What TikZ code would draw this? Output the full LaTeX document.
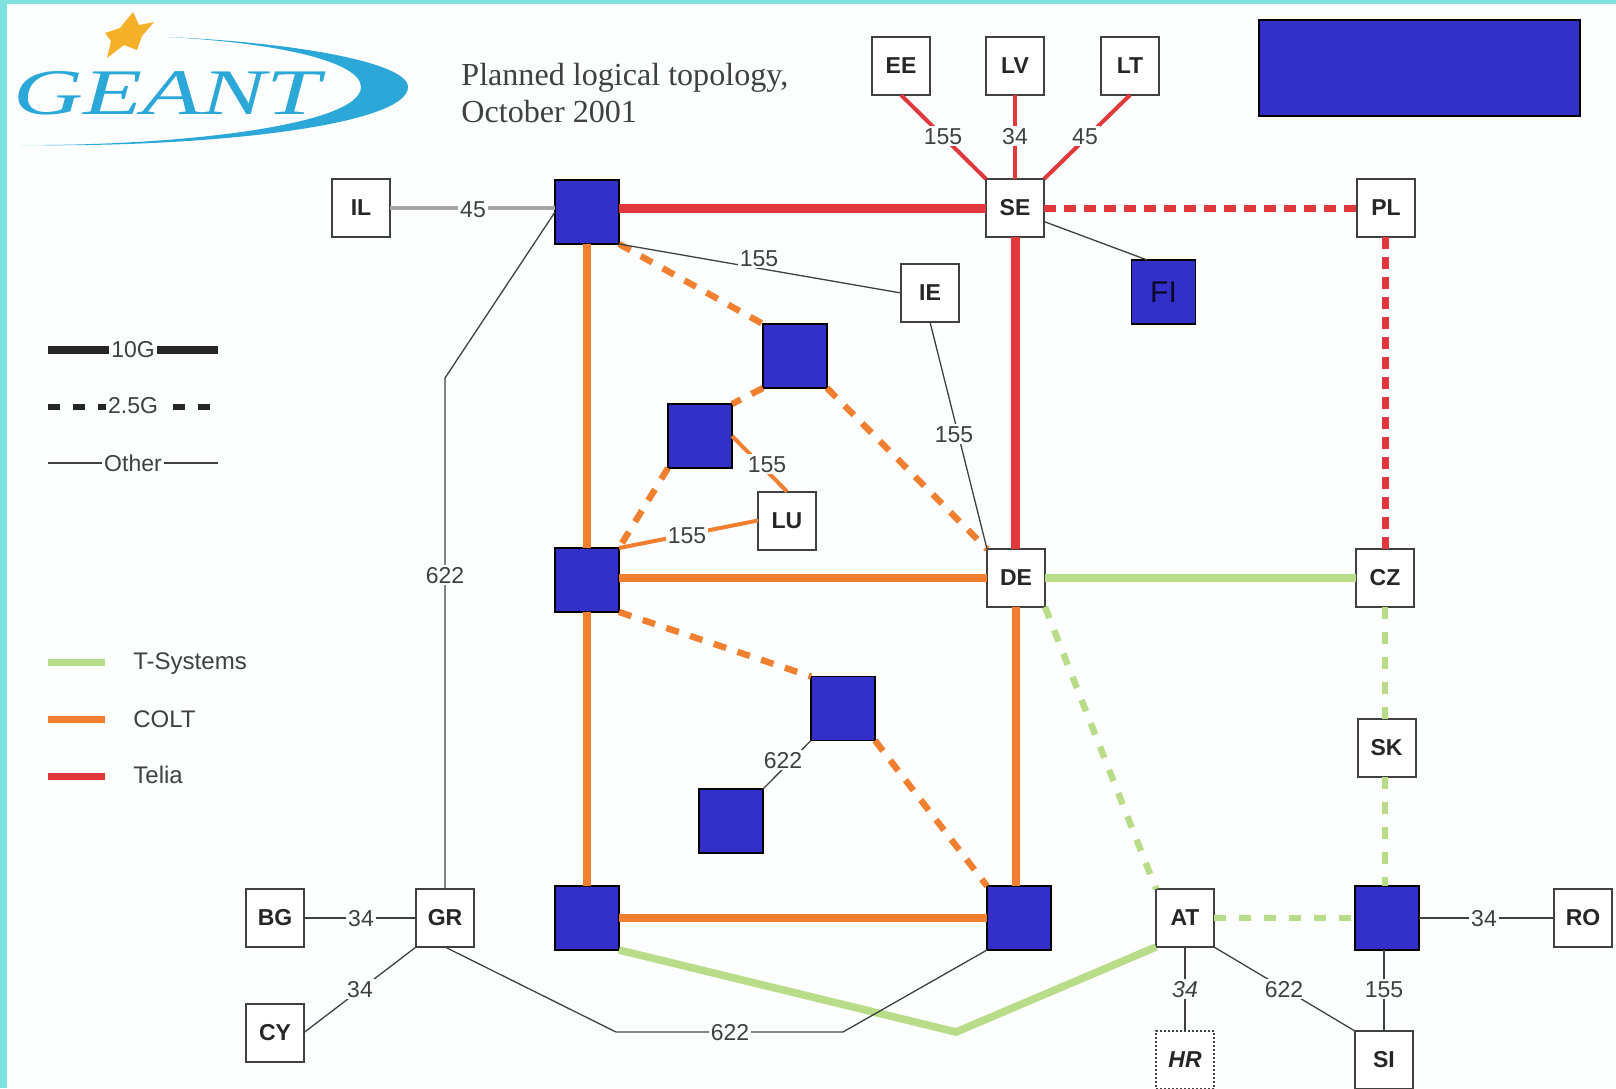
\documentclass[tikz,border=0pt]{standalone}
\usepackage{fontspec}
\usepackage{graphicx}
\setmainfont{Liberation Sans}
\newfontfamily\serifface{Liberation Serif}
\definecolor{bgc}{HTML}{FDFEFE}
\definecolor{edgec}{HTML}{80E2E0}
\definecolor{bluec}{HTML}{3230C8}
\definecolor{tealia}{HTML}{E0383C}
\definecolor{coltc}{HTML}{F08030}
\definecolor{tsys}{HTML}{B8DC88}
\definecolor{logoc}{HTML}{2CA8D8}
\definecolor{starc}{HTML}{F5B02A}
\definecolor{inkc}{HTML}{404040}
\tikzset{
  boxn/.style={draw=inkc,line width=1pt,fill=white,minimum size=29pt,inner sep=0pt,outer sep=0pt,text=black!85,font=\fontsize{11.5}{13}\selectfont\bfseries},
  bluen/.style={draw=black,line width=.8pt,fill=bluec,minimum size=32pt,inner sep=0pt,outer sep=0pt},
  lbl/.style={fill=bgc,inner sep=1pt,yshift=-.6pt,text=inkc,font=\fontsize{11.5}{13}\selectfont},
  thinl/.style={draw=inkc,line width=.65pt},
  redl/.style={draw=tealia,line width=4.5pt},
  redd/.style={draw=tealia,line width=3.5pt,dash pattern=on 6pt off 4pt},
  redt/.style={draw=tealia,line width=2pt},
  orl/.style={draw=coltc,line width=4pt},
  ord/.style={draw=coltc,line width=3.2pt,dash pattern=on 6.5pt off 6pt},
  ort/.style={draw=coltc,line width=2pt},
  grl/.style={draw=tsys,line width=3.8pt},
  grd/.style={draw=tsys,line width=3.2pt,dash pattern=on 6pt off 6.5pt},
  legk/.style={draw=black!85,line width=4pt},
  legd/.style={draw=black!85,line width=3pt,dash pattern=on 6pt off 6.5pt},
  legt/.style={draw=inkc,line width=.65pt},
  legc/.style={line width=3.5pt},
  legtx/.style={inner sep=1pt,text=inkc,font=\fontsize{11.5}{13}\selectfont},
}
\begin{document}
\begin{tikzpicture}[x=.5pt,y=-.5pt]
\useasboundingbox (0,0) rectangle (1616,1088);
\fill[edgec] (0,0) rectangle (1616,1088);
\fill[bgc] (7,4) rectangle (1616,1088);
% logo
\fill[logoc] (167,37) .. controls (290,42) and (408,62) .. (408,87)
  .. controls (408,125) and (210,148) .. (21,145)
  .. controls (180,146) and (361,125) .. (361,87)
  .. controls (361,62) and (280,43) .. (167,37) -- cycle;
\fill[starc] (133,12) -- (139,25) -- (154,22) -- (142,36) -- (137,50) -- (124,45) -- (107,58) -- (111,41) -- (105,33) -- (120,28) -- cycle;
\node[anchor=center,inner sep=0pt,text=logoc] (geant) at (167,93) {\scalebox{1.49}[1]{\fontsize{32.5}{34}\serifface\itshape GEANT}};
\node[anchor=west,align=left,inner sep=0pt,text=inkc,font=\fontsize{16.05}{18.5}\selectfont\serifface] (title) at (461,93) {Planned logical topology,\\October 2001};
% top right
\node[bluen,minimum width=160.5pt,minimum height=48pt] (topblue) at (1419.5,68) {};
% nodes
\node[boxn] (EE) at (901,66) {EE};
\node[boxn] (LV) at (1015,66) {LV};
\node[boxn] (LT) at (1130,66) {LT};
\node[boxn] (SE) at (1015,208) {SE};
\node[boxn] (PL) at (1386,208) {PL};
\node[boxn] (IL) at (361,208) {IL};
\node[boxn] (IE) at (930,293) {IE};
\node[boxn] (LU) at (787,520.5) {LU};
\node[boxn] (DE) at (1016,578) {DE};
\node[boxn] (CZ) at (1385,578) {CZ};
\node[boxn] (SK) at (1386.5,748) {SK};
\node[boxn] (GR) at (445,918) {GR};
\node[boxn] (BG) at (275,918) {BG};
\node[boxn] (CY) at (275,1032.5) {CY};
\node[boxn] (AT) at (1185,918) {AT};
\node[boxn] (RO) at (1583,918) {RO};
\node[boxn,densely dotted,font=\fontsize{11.5}{13}\selectfont\bfseries\itshape] (HR) at (1185,1060) {HR};
\node[boxn] (SI) at (1384,1060) {SI};
\node[bluen] (UK) at (587,212) {};
\node[bluen,text=bluec!20!black,font=\fontsize{15}{17}\selectfont] (FI) at (1163.5,292) {FI};
\node[bluen] (B1) at (795,356) {};
\node[bluen] (B2) at (700,436) {};
\node[bluen] (MID) at (587,580) {};
\node[bluen] (B3) at (843,708.5) {};
\node[bluen] (B4) at (731,821) {};
\node[bluen] (BL) at (587,918) {};
\node[bluen] (BR) at (1019,918) {};
\node[bluen] (BS) at (1387,918) {};
% bends
\coordinate (ilbend) at (445,378);
\coordinate (grb1) at (616,1032);
\coordinate (grb2) at (843,1032);
\coordinate (grnb) at (956,1032);
% thick lines
\draw[redl] (UK.east |- SE.west) -- (SE.west);
\draw[redl] (SE.south) -- (DE.north -| SE.south);
\draw[redd] (SE.east) -- (PL.west);
\draw[redd] (PL.south -| CZ.north) -- (CZ.north);
\draw[redt] (EE.south) -- (SE.north west);
\draw[redt] (LV.south) -- (SE.north);
\draw[redt] (LT.south) -- (SE.north east);
\draw[orl] (UK.south) -- (MID.north);
\draw[orl] (MID.south) -- (BL.north);
\draw[orl] (MID.east |- DE.west) -- (DE.west);
\draw[orl] (BL.east) -- (BR.west);
\draw[orl] (DE.south) -- (DE.south |- BR.north);
\draw[ord] (UK.south east) -- (B1.north west);
\draw[ord] (B1.south west) -- (B2.north east);
\draw[ord] (B1.south east) -- (DE.north west);
\draw[ord] (B2.south west) -- (MID.north east);
\draw[ord] (MID.south east) -- (B3.north west);
\draw[ord] (B3.south east) -- (BR.north west);
\draw[ort] (B2.east) -- (LU.north);
\draw[ort] (MID.north east) -- (LU.west);
\draw[grl] (DE.east) -- (CZ.west);
\draw[grl] (BL.south east) -- (grnb) -- (AT.south west);
\draw[grd] (CZ.south) -- (CZ.south |- SK.north);
\draw[grd] (SK.south -| CZ.south) -- (BS.north -| CZ.south);
\draw[grd] (DE.south east) -- (AT.north west);
\draw[grd] (AT.east) -- (BS.west);
% other
\draw[draw=black!35,line width=1.7pt] (IL.east) -- (UK.west |- IL.east);
\draw[thinl] (UK.west) -- (ilbend) -- (GR.north);
\draw[thinl] (UK.south east) -- (IE.west);
\draw[thinl] (IE.south) -- (DE.north west);
\draw[thinl] (SE.-25) -- (FI.117);
\draw[thinl] (B3.south west) -- (B4.north east);
\draw[thinl] (BG.east) -- (GR.west);
\draw[thinl] (GR.south west) -- (CY.east);
\draw[thinl] (GR.south) -- (grb1) -- (grb2) -- (BR.south west);
\draw[thinl] (AT.south) -- (HR.north);
\draw[thinl] (AT.south east) -- (SI.north west);
\draw[thinl] (BS.south -| SI.north) -- (SI.north);
\draw[thinl] (BS.east) -- (RO.west);
% labels
\node[lbl] (l1) at (473,208) {45};
\node[lbl] (l2) at (759,257) {155};
\node[lbl] (l3) at (954,433) {155};
\node[lbl] (l4) at (767,463) {155};
\node[lbl] (l5) at (687,534) {155};
\node[lbl] (l6) at (783,759) {622};
\node[lbl] (l7) at (445,574) {622};
\node[lbl] (l8) at (943,135) {155};
\node[lbl] (l9) at (1015,135) {34};
\node[lbl] (l10) at (1085,135) {45};
\node[lbl] (l11) at (361,917) {34};
\node[lbl] (l12) at (360,988) {34};
\node[lbl,font=\fontsize{11.5}{13}\selectfont\itshape] (l13) at (1185,988) {34};
\node[lbl] (l14) at (1284,988) {622};
\node[lbl] (l15) at (1384,988) {155};
\node[lbl] (l16) at (1484,917) {34};
\node[lbl] (l17) at (730,1031) {622};
% legend
\node[legtx] (g10) at (133,350) {10G};
\coordinate (g10a) at (48,350); \coordinate (g10b) at (218,350);
\draw[legk] (g10a) -- (g10.west |- g10a);
\draw[legk] (g10.east |- g10b) -- (g10b);
\node[legtx] (g25) at (133,406) {2.5G};
\coordinate (g25a) at (48,407); \coordinate (g25b) at (211,407);
\draw[legd] (g25a) -- (g25.west |- g25a);
\draw[legd] (173,407) -- (g25b);
\node[legtx] (goth) at (133,463) {Other};
\coordinate (gotha) at (48,463); \coordinate (gothb) at (218,463);
\draw[legt] (gotha) -- (goth.west);
\draw[legt] (goth.east) -- (gothb);
\node[legtx,anchor=west,inner sep=0pt,font=\fontsize{12}{13}\selectfont] (gts) at (133,664) {T-Systems};
\node[legtx,anchor=west,inner sep=0pt,font=\fontsize{12}{13}\selectfont] (gco) at (133,719) {COLT};
\node[legtx,anchor=west,inner sep=0pt,font=\fontsize{12}{13}\selectfont] (gte) at (133,775) {Telia};
\coordinate (ta) at (48,662); \coordinate (tb) at (105,662);
\coordinate (ca) at (48,719); \coordinate (cb) at (105,719);
\coordinate (ra) at (48,776); \coordinate (rb) at (105,776);
\draw[legc,draw=tsys] (ta) -- (tb);
\draw[legc,draw=coltc] (ca) -- (cb);
\draw[legc,draw=tealia] (ra) -- (rb);
\end{tikzpicture}
\end{document}
